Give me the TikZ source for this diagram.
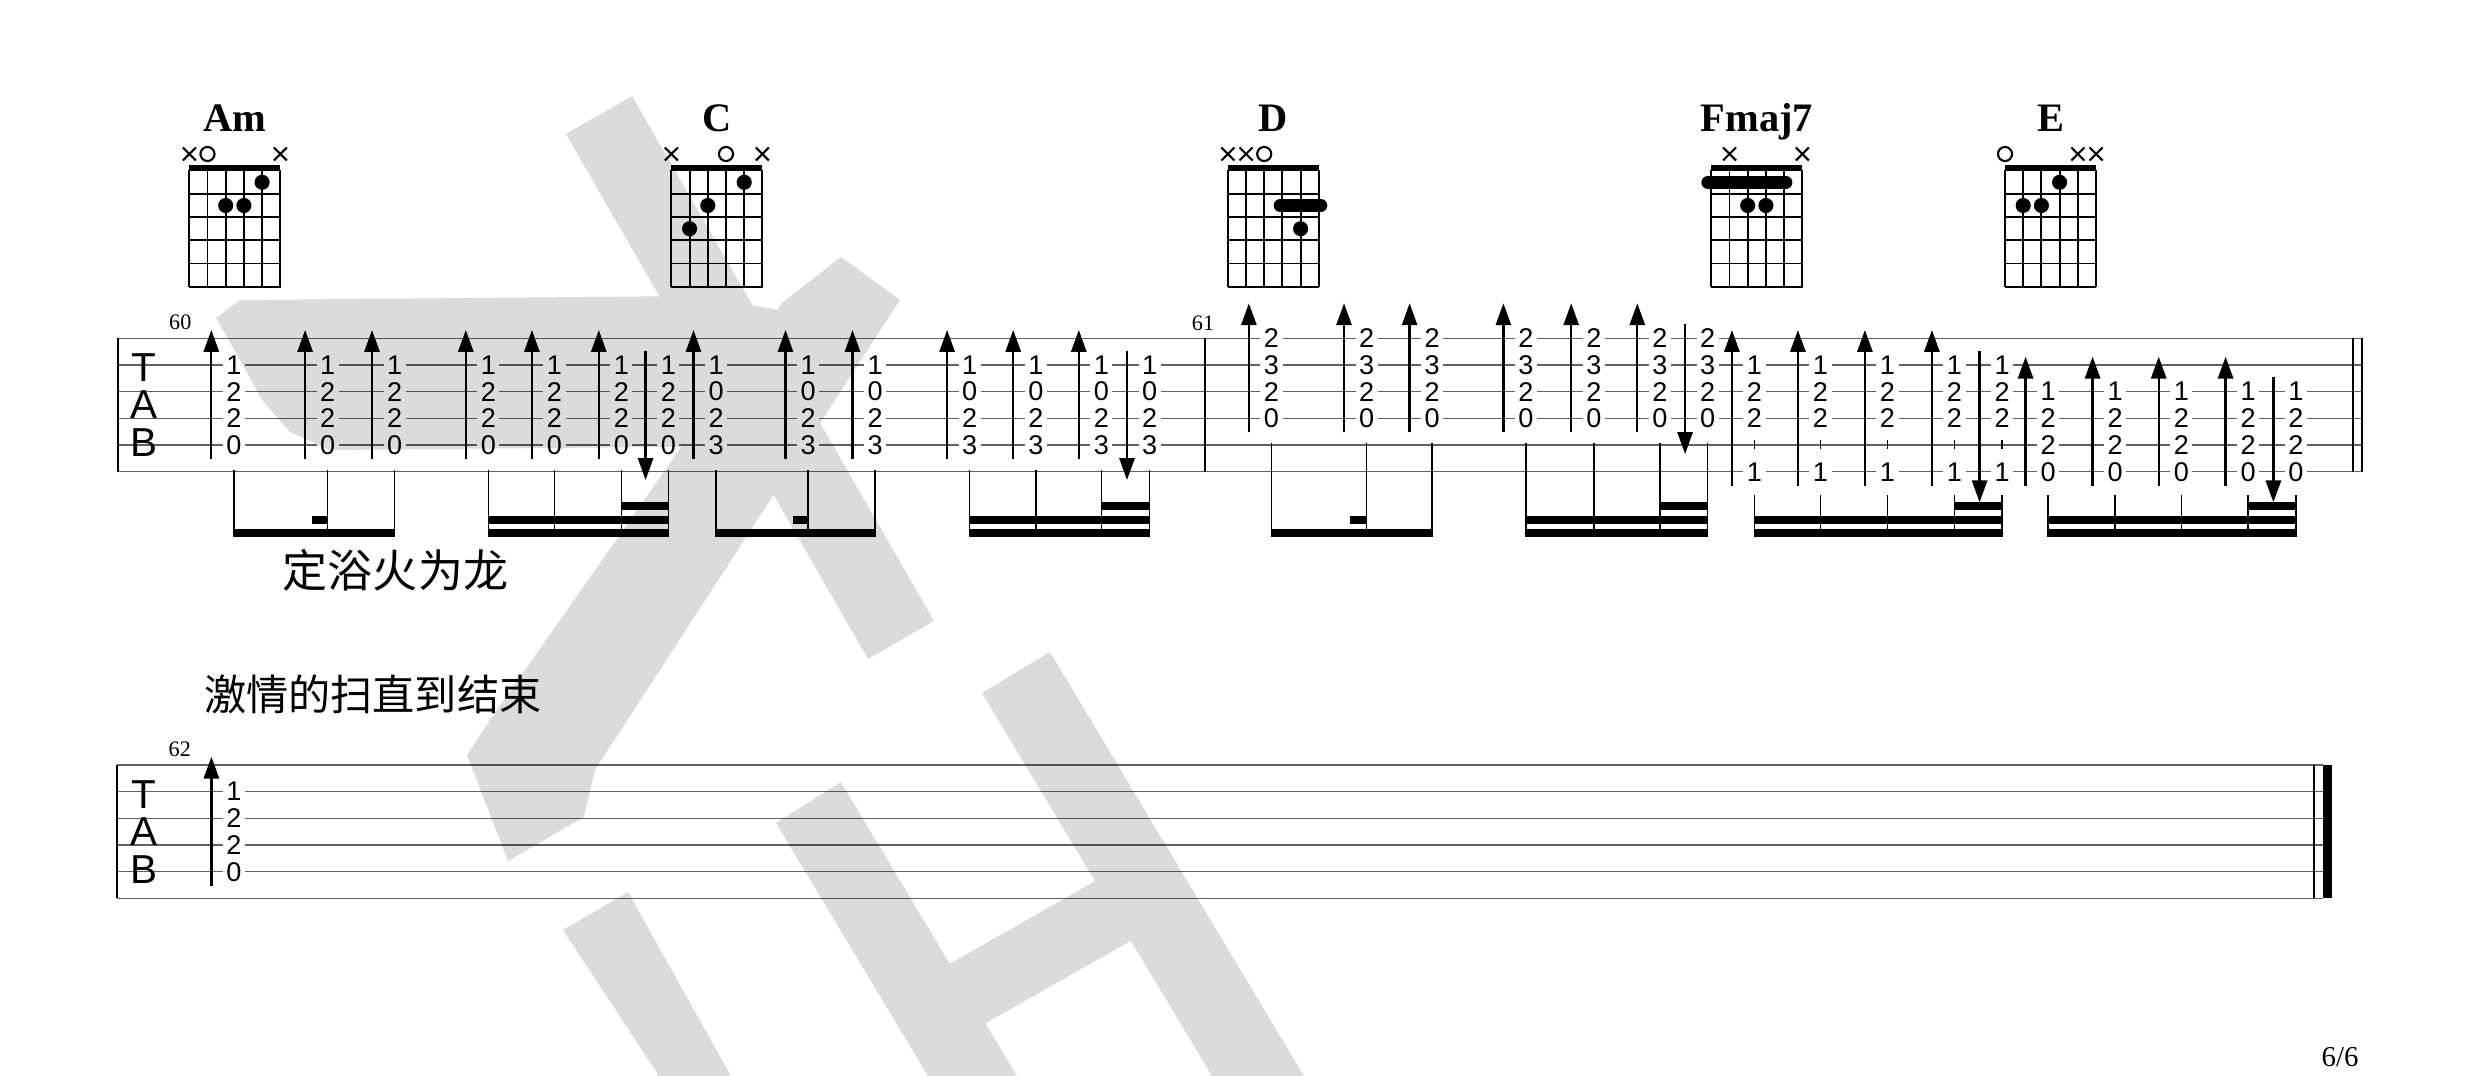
\documentclass[tikz,border=0pt]{standalone}
\usepackage{fontspec}
\setmainfont{Liberation Serif}
\newfontfamily\tabfont{Liberation Sans}
\newfontfamily\cjk{Noto Sans CJK SC}
\usetikzlibrary{arrows.meta}
\tikzset{
  staffline/.style={draw=black!62, line width=0.4pt},
  barline/.style={line width=0.6pt},
  tabnum/.style={fill=white, inner xsep=1pt, inner ysep=0.4pt, font=\tabfont\fontsize{7.7}{8}\selectfont},
  tabletter/.style={inner sep=0pt, font=\tabfont\fontsize{11.5}{11.5}\selectfont},
  strum/.style={line width=0.66pt, -{Triangle[length=6.2pt,width=4.3pt]}},
  stemline/.style={line width=0.42pt},
  gridline/.style={line width=0.55pt},
  markline/.style={line width=0.6pt},
  chordname/.style={inner sep=0pt, anchor=base, font=\bfseries\fontsize{11.5}{12}\selectfont},
  barnum/.style={inner sep=0pt, font=\fontsize{6.3}{7}\selectfont},
  lyric/.style={inner sep=0pt, font=\cjk\fontsize{12.8}{14}\selectfont},
  wm/.style={fill=black!14, draw=none},
}
% tab column: id, x, staff top, list string/fret
\newcommand\tcol[4]{\foreach \s/\f in {#4}{\node[tabnum] (#1s\s) at (#2,{#3+(\s-1)*26.68}) {\f};}}
% strum arrows
\newcommand\uarr[4]{\coordinate (#1b) at (#2,#4); \coordinate (#1t) at (#2,#3); \draw[strum] (#1b) -- (#1t);}
\newcommand\darr[4]{\coordinate (#1t) at (#2,#3); \coordinate (#1b) at (#2,#4); \draw[strum] (#1t) -- (#1b);}
% stem
\newcommand\stm[3]{\coordinate (#1t) at (#2,#3); \coordinate (#1b) at (#2,537.5); \draw[stemline] (#1t) -- (#1b);}
% beam
\newcommand\bm[4]{\fill ({#1-0.7},#3) rectangle ({#2+0.7},#4);}
% chord diagrams
\newcommand\chordbox[1]{%
  \fill (#1,165) rectangle ({#1+91},171);
  \foreach \k in {0,...,5}{\draw[gridline] ({#1+\k*18.2},170) -- ({#1+\k*18.2},286.7);}
  \foreach \k in {1,...,5}{\draw[gridline] ({#1-0.3},{170.7+\k*23.2}) -- ({#1+91.3},{170.7+\k*23.2});}}
\newcommand\fdot[3]{\fill ({#1+#2*18.2},{182.3+(#3-1)*23.2}) circle[radius=2.15pt];}
\newcommand\barre[4]{\draw[line width=3.7pt, line cap=round] ({#1+#2*18.2},{182.3+(#4-1)*23.2}) -- ({#1+#3*18.2},{182.3+(#4-1)*23.2});}
\newcommand\mutemk[2]{\draw[markline] ({#1+#2*18.2-6.5},147.5) -- ({#1+#2*18.2+6.5},160.5) ({#1+#2*18.2-6.5},160.5) -- ({#1+#2*18.2+6.5},147.5);}
\newcommand\openmk[2]{\draw[markline] ({#1+#2*18.2},154) circle[radius=2.0pt];}
\begin{document}
\begin{tikzpicture}[x=0.01cm, y=-0.01cm]
\useasboundingbox (0,0) rectangle (2480,1076);
\fill[white] (0,0) rectangle (2480,1076);

% ---------- chord diagrams ----------
\node[chordname] (chAm) at (234.8,132) {Am};
\chordbox{189.3}
\mutemk{189.3}{0}\openmk{189.3}{1}\mutemk{189.3}{5}
\fdot{189.3}{4}{1}\fdot{189.3}{2}{2}\fdot{189.3}{3}{2}

\node[chordname] (chC) at (716.9,132) {C};
\chordbox{671.4}
\mutemk{671.4}{0}\openmk{671.4}{3}\mutemk{671.4}{5}
\fdot{671.4}{4}{1}\fdot{671.4}{2}{2}\fdot{671.4}{1}{3}

\node[chordname] (chD) at (1273.3,132) {D};
\chordbox{1227.8}
\mutemk{1227.8}{0}\mutemk{1227.8}{1}\openmk{1227.8}{2}
\barre{1227.8}{2.88}{5.11}{2}\fdot{1227.8}{4}{3}

\node[chordname] (chF) at (1756.8,132) {Fmaj7};
\chordbox{1711.3}
\mutemk{1711.3}{1}\mutemk{1711.3}{5}
\barre{1711.3}{-0.19}{4.1}{1}\fdot{1711.3}{2}{2}\fdot{1711.3}{3}{2}

\node[chordname] (chE) at (2050.5,132) {E};
\chordbox{2005}
\openmk{2005}{0}\mutemk{2005}{4}\mutemk{2005}{5}
\fdot{2005}{3}{1}\fdot{2005}{1}{2}\fdot{2005}{2}{2}

% ---------- staff 1 ----------
\foreach \k in {0,...,5}{\draw[staffline] (117.9,{338.3+\k*26.68}) -- (2361.6,{338.3+\k*26.68});}
\draw[barline] (117.9,338.3) -- (117.9,471.7);
\draw[barline] (1205.4,338.3) -- (1205.4,471.7);
\draw[barline] (2352.7,338.3) -- (2352.7,471.7);
\draw[barline] (2361.6,338.3) -- (2361.6,471.7);
\node[tabletter] (T1) at (144,367.5) {T};
\node[tabletter] (A1) at (144,405) {A};
\node[tabletter] (B1) at (144,442.5) {B};
\node[barnum] (m60) at (180.3,322.5) {60};
\node[barnum] (m61) at (1203,323) {61};

% Am
\foreach \x [count=\i] in {233.9,327.7,394.6,488.4,554.5,621.4,668.3}{
  \tcol{am\i}{\x}{338.3}{2/1,3/2,4/2,5/0}
  \stm{ams\i}{\x}{470}}
\foreach \x [count=\i] in {211.3,305.1,372.0,465.8,531.9,598.8}{\uarr{amu\i}{\x}{330}{459}}
\darr{amd}{645.6}{350.7}{480}
% C
\foreach \x [count=\i] in {716.1,808.1,875.1,969.7,1035.8,1101.4,1149.6}{
  \tcol{c\i}{\x}{338.3}{2/1,3/0,4/2,5/3}
  \stm{cs\i}{\x}{470}}
\foreach \x [count=\i] in {693.5,785.5,852.5,947.1,1013.2,1078.8}{\uarr{cu\i}{\x}{330}{459}}
\darr{cd}{1127.0}{350.7}{480}
% D
\foreach \x [count=\i] in {1271.5,1366.6,1432.2,1526,1593.8,1659.9,1707.7}{
  \tcol{d\i}{\x}{338.3}{1/2,2/3,3/2,4/0}
  \stm{ds\i}{\x}{442.7}}
\foreach \x [count=\i] in {1248.9,1344.0,1409.6,1503.4,1571.2,1637.3}{\uarr{du\i}{\x}{303.3}{432.3}}
\darr{dd}{1685.1}{324}{454}
% Fmaj7
\foreach \x [count=\i] in {1754.5,1820.5,1887.5,1954.5,2002.2}{
  \tcol{f\i}{\x}{338.3}{2/1,3/2,4/2,6/1}
  \coordinate (fk\i t) at (\x,440); \coordinate (fk\i b) at (\x,449);
  \draw[stemline] (fk\i t) -- (fk\i b);
  \stm{fs\i}{\x}{495}}
\foreach \x [count=\i] in {1731.9,1797.9,1864.9,1931.9}{\uarr{fu\i}{\x}{330}{485.7}}
\darr{fd}{1979.6}{350.7}{502.3}
% E
\foreach \x [count=\i] in {2048.2,2115.2,2181.3,2248.2,2296}{
  \tcol{e\i}{\x}{338.3}{3/1,4/2,5/2,6/0}
  \stm{es\i}{\x}{495}}
\foreach \x [count=\i] in {2025.6,2092.6,2158.7,2225.6}{\uarr{eu\i}{\x}{356.7}{485.7}}
\darr{ed}{2273.4}{377.3}{502.3}

% beams
\bm{233.9}{394.6}{529.5}{537.5}\bm{312.5}{327.7}{516}{524}
\bm{488.4}{668.3}{529.5}{537.5}\bm{488.4}{668.3}{516}{524}\bm{621.4}{668.3}{502.5}{510.5}
\bm{716.1}{875.1}{529.5}{537.5}\bm{793.4}{808.1}{516}{524}
\bm{969.7}{1149.6}{529.5}{537.5}\bm{969.7}{1149.6}{516}{524}\bm{1101.4}{1149.6}{502.5}{510.5}
\bm{1271.5}{1432.2}{529.5}{537.5}\bm{1351}{1366.6}{516}{524}
\bm{1526}{1707.7}{529.5}{537.5}\bm{1526}{1707.7}{516}{524}\bm{1659.9}{1707.7}{502.5}{510.5}
\bm{1754.5}{2002.2}{529.5}{537.5}\bm{1754.5}{2002.2}{516}{524}\bm{1954.5}{2002.2}{502.5}{510.5}
\bm{2048.2}{2296}{529.5}{537.5}\bm{2048.2}{2296}{516}{524}\bm{2248.2}{2296}{502.5}{510.5}

\node[lyric] (lyr1) at (395.5,570) {定浴火为龙};
\node[lyric, font=\cjk\fontsize{12}{14}\selectfont] (lyr2) at (372.8,694) {激情的扫直到结束};

% ---------- staff 2 ----------
\foreach \k in {0,...,5}{\draw[staffline] (117.2,{765+\k*26.68}) -- (2323.3,{765+\k*26.68});}
\draw[barline] (117.2,765) -- (117.2,898.4);
\draw[barline] (2314.3,765) -- (2314.3,898.4);
\fill (2323.3,765) rectangle (2332,898.4);
\node[tabletter] (T2) at (144,794.5) {T};
\node[tabletter] (A2) at (144,832) {A};
\node[tabletter] (B2) at (144,869.5) {B};
\node[barnum] (m62) at (179.8,749) {62};
\tcol{st}{234}{765}{2/1,3/2,4/2,5/0}
\uarr{su}{211.4}{756.7}{885.7}

\node[inner sep=0pt, font=\fontsize{8.2}{9}\selectfont] (page) at (2340,1057) {6/6};

% ---------- watermark (one path, so overlaps stay one shade) ----------
\begin{scope}[blend mode=multiply]
\fill[wm]
 (216,318) -- (240,300) -- (700,296) -- (790,312) -- (765,446) -- (330,450) -- (290,432) -- (262,400) -- (240,360) -- cycle
 (566,134) -- (632,96) -- (934,621) -- (868,659) -- cycle
 (783,302) -- (841,257) -- (900,300) -- (595,770) -- (584,817) -- (508,861) -- (467,755) -- (490,720) -- cycle
 (563,930) -- (628,892) -- (731,1076) -- (659,1076) -- cycle
 (776,823) -- (841,782) -- (1017,1076) -- (928,1076) -- cycle
 (982,693) -- (1050,652) -- (1304,1076) -- (1212,1076) -- cycle
 (930,975) -- (1150,850) -- (1185,910) -- (965,1035) -- cycle;
\end{scope}
\end{tikzpicture}
\end{document}
